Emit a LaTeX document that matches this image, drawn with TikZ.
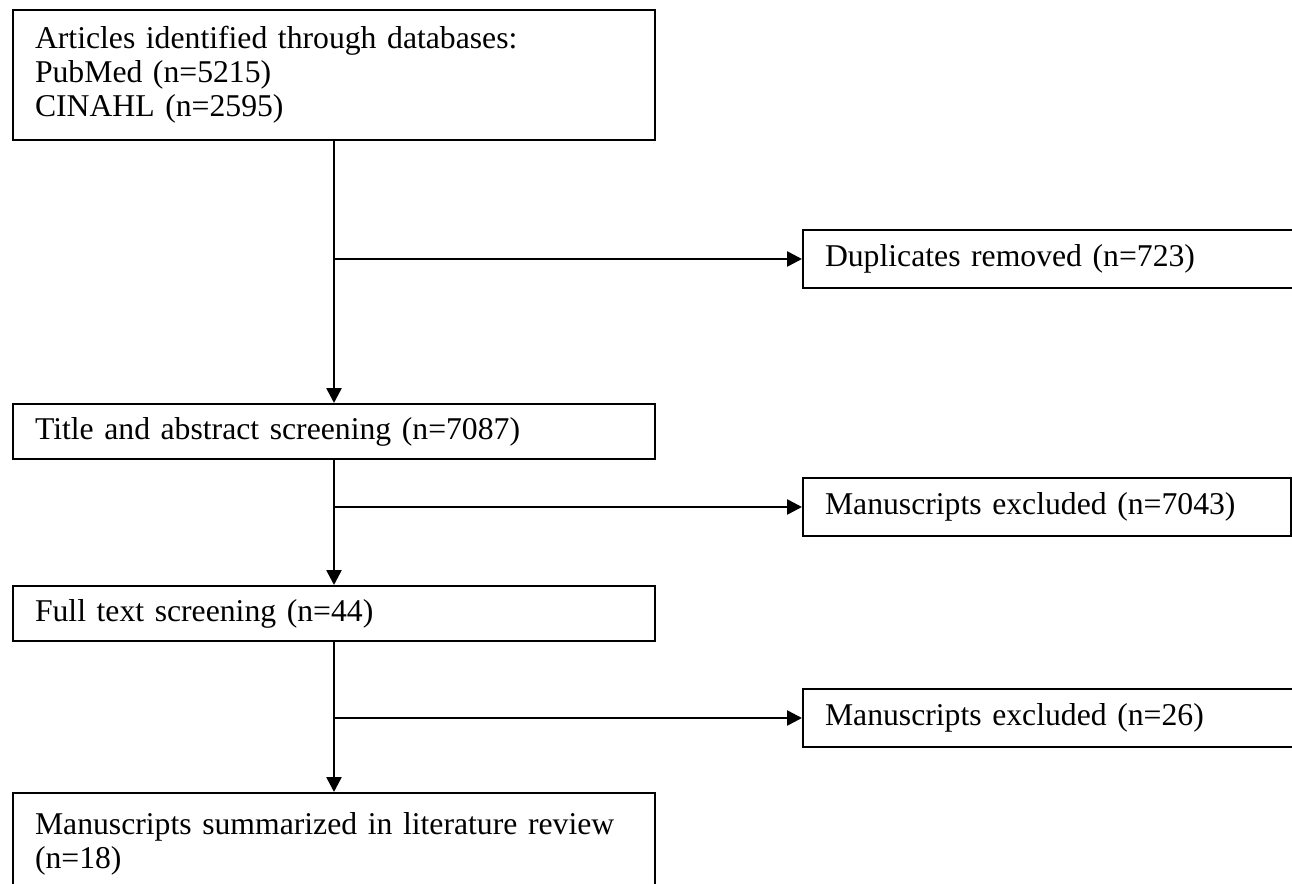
\documentclass[tikz,border=0pt]{standalone}
\usepackage{fontspec}
\setmainfont{Liberation Serif}
\usetikzlibrary{arrows.meta,positioning}

\begin{document}
\begin{tikzpicture}[
  x=0.5pt, y=-0.5pt,
  font=\fontsize{15.85}{17}\selectfont,
  >={Triangle[length=7.5pt, width=7.5pt]},
  box/.style={rectangle, draw=black, line width=1pt, anchor=north west,
              align=left, inner xsep=11pt, inner ysep=0pt},
  lbox/.style={box, minimum width=321pt, text width=299pt},
  rbox/.style={box, minimum width=249pt, text width=227pt, minimum height=29pt},
  arr/.style={->, line width=1.3pt},
]

\def\lx{12}  \def\rx{802}

\useasboundingbox (0,0) rectangle (1292,884);

% stages
\node[lbox, minimum height=65pt] (src) at (\lx,9)
  {Articles identified through databases:\\PubMed (n=5215)\\CINAHL (n=2595)};
\node[lbox, minimum height=27.5pt] (title) at (\lx,403) {Title and abstract screening (n=7087)};
\node[lbox, minimum height=27.5pt] (full)  at (\lx,585) {Full text screening (n=44)};
\node[lbox, minimum height=51pt]   (final) at (\lx,792)
  {Manuscripts summarized in literature review\\(n=18)};

% removed records
\node[rbox] (dup) at (\rx,229) {Duplicates removed (n=723)};
\node[rbox, minimum width=244pt, text width=222pt] (excl1) at (\rx,477) {Manuscripts excluded (n=7043)};
\node[rbox] (excl2) at (\rx,688) {Manuscripts excluded (n=26)};

% branch points
\coordinate (b1) at (src.south |- dup.west);
\coordinate (b2) at (title.south |- excl1.west);
\coordinate (b3) at (full.south |- excl2.west);

% arrows
\draw[arr] (src.south) -- (title.north);
\draw[arr] (title.south) -- (full.north);
\draw[arr] (full.south) -- (final.north);
\draw[arr] (b1) -- (dup.west);
\draw[arr] (b2) -- (excl1.west);
\draw[arr] (b3) -- (excl2.west);

\end{tikzpicture}
\end{document}
